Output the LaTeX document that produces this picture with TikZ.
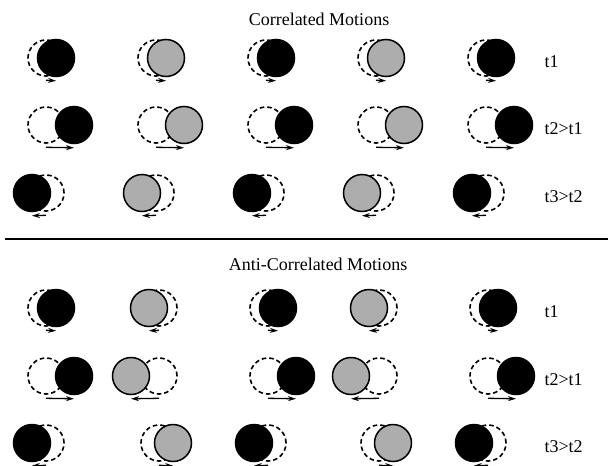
\documentclass[tikz,border=0pt]{standalone}
\usepackage{fontspec}
\setmainfont{Liberation Serif}
\usetikzlibrary{arrows.meta}
\begin{document}
\begin{tikzpicture}[x=1pt,y=-1pt,
  ball/.style={circle,draw,line width=1.5pt,minimum size=37pt,inner sep=0pt},
  dark/.style={ball,fill=black},
  light/.style={ball,fill=black!32},
  ghost/.style={circle,draw,dash pattern=on 4.5pt off 3pt,line width=1.6pt,minimum size=36pt,inner sep=0pt},
  move/.style={line width=1.3pt,-{Stealth[length=8pt,width=5pt]}},
  txt/.style={font=\fontsize{18}{20}\selectfont}]
\useasboundingbox (0,0) rectangle (608,466);
% correlated
\node[txt,anchor=base] (corr) at (319,25) {Correlated Motions};
\foreach \r/\y/\o/\t in {1/58/10/t1,2/125/28/t2>t1,3/193/-14/t3>t2}{
  \foreach \c/\x/\f in {1/46/dark,2/156/light,3/266/dark,4/376/light,5/486/dark}{
    \node[ghost] (cg\r\c) at (\x,\y) {};
    \node[\f] (cb\r\c) at (\x+\o,\y) {};
    \draw[move] ([yshift=-3.5pt]cg\r\c.south) -- ([yshift=-3.5pt]cb\r\c.south);
  }
  \node[txt,anchor=base west] (ct\r) at (541,\y+9) {\t};
}
% separator
\draw[line width=1.3pt] (5,239) -- (608,239);
% anti-correlated
\node[txt,anchor=base] (anti) at (318,270) {Anti-Correlated Motions};
\foreach \r/\y/\o/\t in {1/308/10/t1,2/376/28/t2>t1,3/443/-14/t3>t2}{
  \foreach \c/\x/\f/\s in {1/46/dark/1,2/159/light/-1,3/268/dark/1,4/379/light/-1,5/488/dark/1}{
    \node[ghost] (ag\r\c) at (\x,\y) {};
    \node[\f] (ab\r\c) at (\x+\s*\o,\y) {};
    \draw[move] ([yshift=-3.5pt]ag\r\c.south) -- ([yshift=-3.5pt]ab\r\c.south);
  }
  \node[txt,anchor=base west] (at\r) at (541,\y+9) {\t};
}
\end{tikzpicture}
\end{document}
